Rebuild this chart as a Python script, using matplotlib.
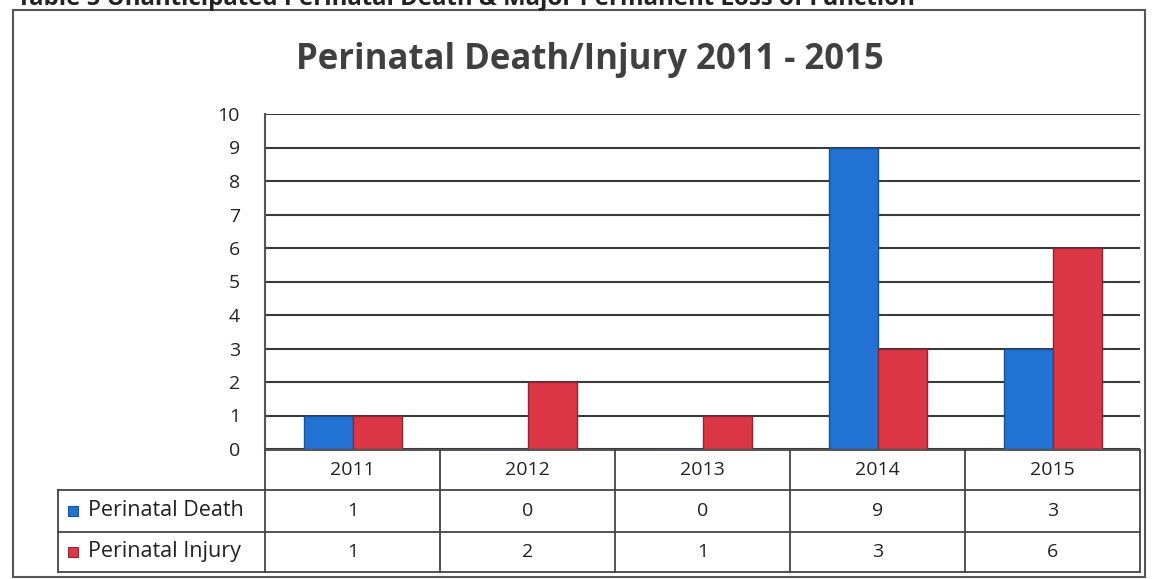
import matplotlib.pyplot as plt
from matplotlib.lines import Line2D
from matplotlib.patches import Rectangle
import numpy as np

years = ["2011", "2012", "2013", "2014", "2015"]
series = ["Perinatal Death", "Perinatal Injury"]
death = [1, 0, 0, 9, 3]
injury = [1, 2, 1, 3, 6]
colors = ["#2172d2", "#dc3747"]
edges = ["#17528f", "#8e2630"]

W, H = 1156, 579
plt.rcParams['font.family'] = ['Open Sans', 'DejaVu Sans']

fig = plt.figure(figsize=(W / 100, H / 100), dpi=100)


def fx(px):
    return px / W


def fy(py):
    return 1 - py / H


# outer border of the chart
fig.add_artist(Rectangle((fx(13), fy(577)), fx(1145) - fx(13), fy(10) - fy(577),
                         transform=fig.transFigure, fill=False, ec="#555555", lw=1.5))
# caption of the page, cut off at the top
fig.text(fx(17), fy(5), "Table 5 Unanticipated Perinatal Death & Major Permanent Loss of Function",
         fontsize=17.3, fontweight="bold", color="#222222", ha="left", va="baseline")

fig.text(fx(590), fy(60), "Perinatal Death/Injury 2011 - 2015", fontsize=25,
         fontweight="bold", color="#404040", ha="center", va="center")

left, right, top, bottom = 265, 1140, 114, 449
ax = fig.add_axes([fx(left), fy(bottom), fx(right) - fx(left), fy(top) - fy(bottom)])

x = np.arange(len(years))
w = 0.28
ax.bar(x - w / 2, death, w, color=colors[0], edgecolor=edges[0], lw=1, zorder=3)
ax.bar(x + w / 2, injury, w, color=colors[1], edgecolor=edges[1], lw=1, zorder=3)

ax.set_xlim(-0.5, len(years) - 0.5)
ax.set_ylim(0, 10)
ax.set_yticks(range(0, 11))
ax.set_xticks([])
ax.tick_params(axis="y", length=0, labelsize=14, pad=18, colors="#222222")
ax.grid(axis="y", color="#3a3a3a", lw=1.5, zorder=0)
for s in ["top", "right", "bottom"]:
    ax.spines[s].set_visible(False)
ax.spines["left"].set_color("#555555")
ax.spines["left"].set_linewidth(1.5)

# data table under the axis
col_w = (right - left) / len(years)
rows = [450, 490, 532, 572]
lab_left = 58
lc = "#444444"


def hline(x0, x1, y):
    fig.add_artist(Line2D([fx(x0), fx(x1)], [fy(y), fy(y)], transform=fig.transFigure,
                          color=lc, lw=1.3))


def vline(xp, y0, y1):
    fig.add_artist(Line2D([fx(xp), fx(xp)], [fy(y0), fy(y1)], transform=fig.transFigure,
                          color=lc, lw=1.3))


hline(left, right, rows[0])
for yy in rows[1:]:
    hline(lab_left, right, yy)
vline(lab_left, rows[1], rows[3])
for i in range(len(years) + 1):
    vline(left + i * col_w, rows[0], rows[3])

for i, yr in enumerate(years):
    cx = left + (i + 0.5) * col_w
    fig.text(fx(cx), fy((rows[0] + rows[1]) / 2), yr, ha="center", va="center",
             fontsize=14, color="#222222")
    for r, vals in enumerate([death, injury]):
        fig.text(fx(cx), fy((rows[r + 1] + rows[r + 2]) / 2), str(vals[i]), ha="center",
                 va="center", fontsize=14, color="#222222")

for r, name in enumerate(series):
    yc = (rows[r + 1] + rows[r + 2]) / 2
    fig.add_artist(Rectangle((fx(68), fy(yc + 5)), fx(10), fy(yc - 5) - fy(yc + 5),
                             transform=fig.transFigure, fc=colors[r], ec=edges[r], lw=0.8))
    fig.text(fx(88), fy(yc), name, ha="left", va="center", fontsize=15.5, color="#222222")

fig.savefig("out.png", dpi=100)
